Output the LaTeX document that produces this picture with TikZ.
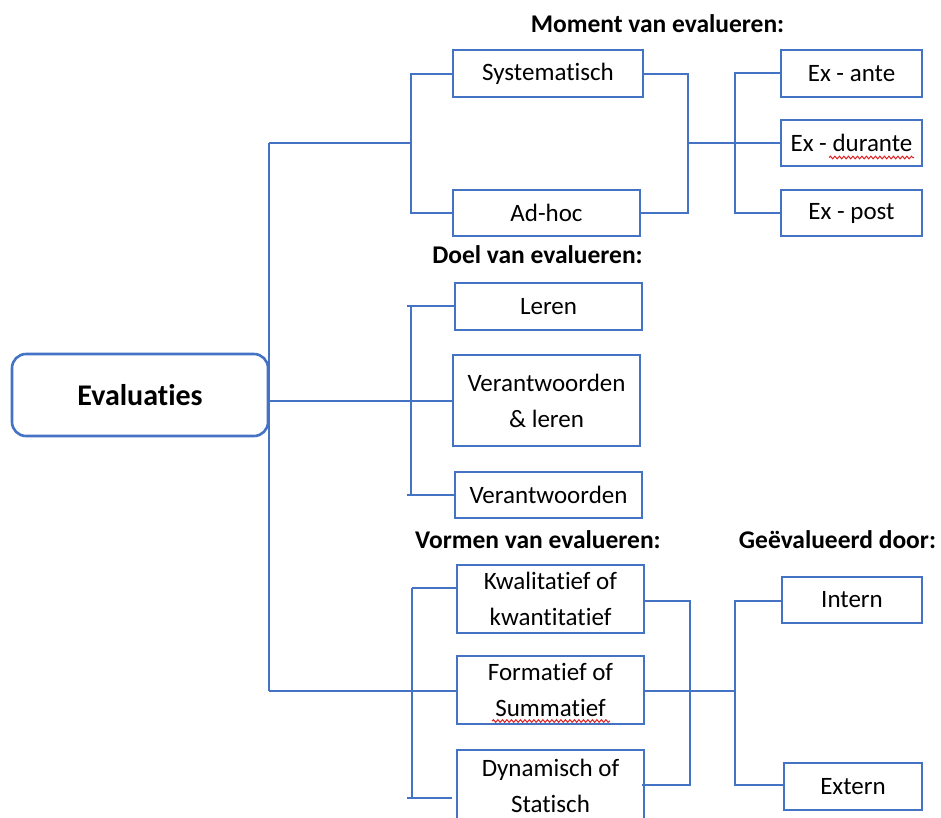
\documentclass[tikz,border=0pt]{standalone}
\usepackage{fontspec}
\setmainfont[Ligatures={NoCommon}]{Carlito}
\usetikzlibrary{decorations.pathmorphing}
\definecolor{linkblue}{RGB}{68,114,196}
\definecolor{spellred}{RGB}{220,30,30}
\begin{document}
\begin{tikzpicture}[x=1pt,y=-1pt,
  box/.style={draw=linkblue,line width=2pt,fill=white,inner sep=0pt,
    align=center,font=\fontsize{25}{36}\selectfont},
  rootbox/.style={draw=linkblue,line width=2.6pt,rounded corners=14pt,fill=white,
    inner sep=0pt,font=\fontsize{30}{36}\selectfont\bfseries,
    minimum width=256pt,minimum height=82pt},
  heading/.style={anchor=base,inner sep=0pt,font=\fontsize{25.5}{30}\selectfont\bfseries},
  link/.style={draw=linkblue,line width=2pt},
  squiggle/.style={draw=spellred,line width=1pt,
    decorate,decoration={snake,segment length=4.5pt,amplitude=1.3pt}}]
\clip (0,0) rectangle (941,817);
\fill[white] (0,0) rectangle (941,817);

% headings
\node[heading] (hmoment) at (657.5,32) {Moment van evalueren:};
\node[heading] (hdoel)   at (537.5,263) {Doel van evalueren:};
\node[heading] (hvormen) at (538,548) {Vormen van evalueren:};
\node[heading] (hdoor)   at (837.5,548) {Geëvalueerd door:};

% junction points of the tree
\coordinate (t1) at (269,143);
\coordinate (t2) at (269,401);
\coordinate (t3) at (269,691);
\coordinate (b1) at (411,143);
\coordinate (b2) at (411,401);
\coordinate (b3) at (412,691);
\coordinate (j1) at (688,143);
\coordinate (k1) at (735,143);
\coordinate (j3) at (690,691);
\coordinate (k3) at (735,691);

% root
\node[rootbox] (eval) at (140,395) {Evaluaties};

% group 1: moment
\node[box,minimum width=190pt,minimum height=47pt] (sys)   at (548,73.5) {Systematisch};
\node[box,minimum width=187pt,minimum height=46pt] (adhoc) at (546.5,213) {Ad-hoc};
\node[box,minimum width=141pt,minimum height=47pt] (exante) at (851.5,73.5) {Ex - ante};
\node[box,minimum width=141pt,minimum height=46pt] (exdur)  at (851.5,143) {Ex - durante};
\node[box,minimum width=141pt,minimum height=46pt] (expost) at (851.5,213) {Ex - post};

% group 2: doel
\node[box,minimum width=187pt,minimum height=47pt] (leren)  at (548.5,306.5) {Leren};
\node[box,minimum width=187pt,minimum height=91pt] (verle)  at (546.5,400.5) {Verantwoorden\\\& leren};
\node[box,minimum width=187pt,minimum height=46pt] (verant) at (548.5,495) {Verantwoorden};

% group 3: vormen
\node[box,minimum width=187pt,minimum height=68pt] (kwal) at (550.5,599) {Kwalitatief of\\kwantitatief};
\node[box,minimum width=187pt,minimum height=68pt] (form) at (550.5,690) {Formatief of\\Summatief};
\node[box,minimum width=187pt,minimum height=71pt] (dyn)  at (550.5,785.5) {Dynamisch of\\Statisch};
\node[box,minimum width=140pt,minimum height=46pt] (intern) at (852,600) {Intern};
\node[box,minimum width=138pt,minimum height=47pt] (extern) at (853,786.5) {Extern};

% trunk
\draw[link] (t1) -- (t3);
\draw[link] (t1) -- (b1);
\draw[link] (eval.east |- t2) -- (b2);
\draw[link] (t3) -- (b3);

% group 1 connectors
\draw[link] (sys.west |- 0,74) -| (411,74) -- (411,213) -- (adhoc.west |- 0,213);
\draw[link] (sys.east |- 0,74) -| (688,74) -- (688,213) -- (adhoc.east |- 0,213);
\draw[link] (j1) -- (k1);
\draw[link] (exante.west |- 0,73) -| (735,73) -- (735,213) -- (expost.west |- 0,213);
\draw[link] (k1) -- (exdur.west |- k1);

% group 2 connectors
\draw[link] (407,306) -- (leren.west |- 0,306);
\draw[link] (411,306) -- (411,495);
\draw[link] (407,495) -- (verant.west |- 0,495);
\draw[link] (b2) -- (verle.west |- b2);

% group 3 connectors
\draw[link] (412,588) -- (kwal.west |- 0,588);
\draw[link] (412,588) -- (412,798);
\draw[link] (407,798) -- (452,798);
\draw[link] (b3) -- (form.west |- b3);
\draw[link] (kwal.east |- 0,601) -| (690,601) -- (690,785) -- (642,785);
\draw[link] (form.east |- j3) -- (k3);
\draw[link] (intern.west |- 0,601) -| (735,601) -- (735,785) -- (extern.west |- 0,785);

% spelling marks
\draw[squiggle] (829,157.5) -- (914,157.5);
\draw[squiggle] (492,721) -- (610,721);
\end{tikzpicture}
\end{document}
